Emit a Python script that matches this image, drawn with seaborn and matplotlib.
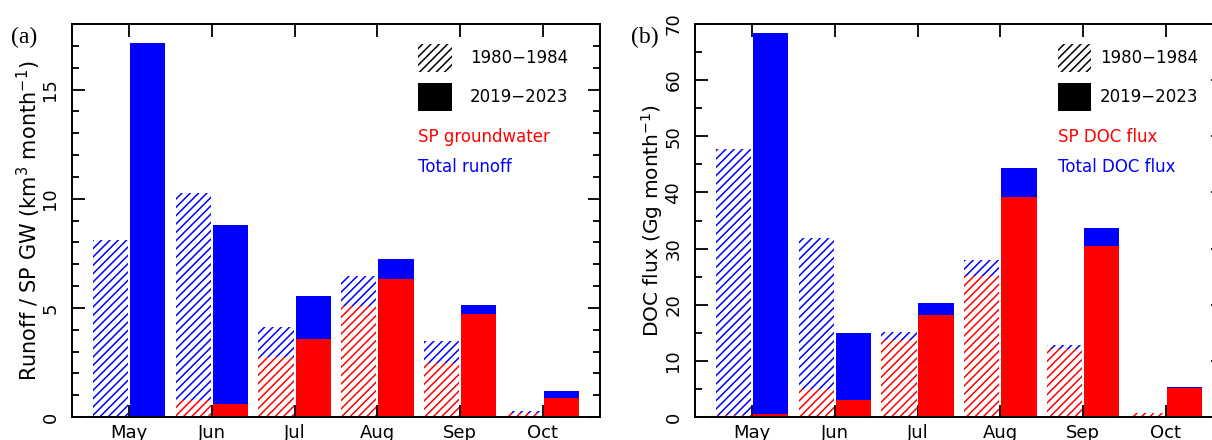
import numpy as np
import pandas as pd
import matplotlib
matplotlib.use("Agg")
import matplotlib.pyplot as plt
from matplotlib.patches import Rectangle
from matplotlib.ticker import MultipleLocator
import seaborn as sns

months = ["May", "Jun", "Jul", "Aug", "Sep", "Oct"]
periods = ["1980\u22121984", "2019\u22122023"]

# Panel (a): runoff (km3/month)
runoff_1980 = [8.09, 10.26, 4.11, 6.47, 3.47, 0.29]
gw_1980 = [0.05, 0.80, 2.77, 5.09, 2.46, 0.17]
runoff_2019 = [17.14, 8.79, 5.55, 7.25, 5.14, 1.19]
gw_2019 = [0.05, 0.60, 3.58, 6.33, 4.72, 0.89]

# Panel (b): DOC flux (Gg/month)
doc_1980 = [47.8, 31.9, 15.2, 28.0, 12.8, 0.8]
spdoc_1980 = [0.3, 5.05, 13.7, 25.1, 12.1, 0.7]
doc_2019 = [68.4, 14.9, 20.3, 44.3, 33.6, 5.3]
spdoc_2019 = [0.5, 2.97, 18.2, 39.2, 30.4, 5.1]

sns.set_style("ticks")
plt.rcParams["font.family"] = ["DejaVu Sans"]
plt.rcParams["hatch.linewidth"] = 1.1
plt.rcParams["axes.linewidth"] = 1.4
for k in ["text.color", "axes.labelcolor", "xtick.color", "ytick.color",
          "axes.edgecolor"]:
    plt.rcParams[k] = "black"

BLUE = "#0000ff"
RED = "#ff0000"
HATCH = "////"


def make_df(tot80, sp80, tot19, sp19):
    rows = []
    for i, m in enumerate(months):
        rows.append(dict(month=m, period=periods[0], total=tot80[i], sp=sp80[i]))
        rows.append(dict(month=m, period=periods[1], total=tot19[i], sp=sp19[i]))
    return pd.DataFrame(rows)


def style_container(cont, hatched, color):
    for p in cont.patches:
        p.set_linewidth(0)
        if hatched:
            p.set_facecolor("white")
            p.set_edgecolor(color)
            p.set_hatch(HATCH)
        else:
            p.set_facecolor(color)
            p.set_edgecolor(color)


def panel(ax, df, ylim, major, minor, ylabel, ylsize, lab_red, lab_blue,
          leg_x, txt_x):
    sns.barplot(data=df, x="month", y="total", hue="period", order=months,
                hue_order=periods, width=0.9, gap=0.05, errorbar=None,
                legend=False, ax=ax)
    sns.barplot(data=df, x="month", y="sp", hue="period", order=months,
                hue_order=periods, width=0.9, gap=0.05, errorbar=None,
                legend=False, ax=ax)
    conts = ax.containers
    style_container(conts[0], True, BLUE)
    style_container(conts[1], False, BLUE)
    style_container(conts[2], True, RED)
    style_container(conts[3], False, RED)

    ax.set_xlim(-0.69, 5.69)
    ax.set_ylim(*ylim)
    ax.yaxis.set_major_locator(MultipleLocator(major))
    ax.yaxis.set_minor_locator(MultipleLocator(minor))
    ax.tick_params(axis="both", which="both", direction="in", top=True,
                   right=True, labelsize=13, colors="black")
    ax.tick_params(axis="both", which="major", length=9, width=1.3)
    ax.tick_params(axis="y", which="minor", length=5, width=1.3)
    ax.tick_params(axis="y", pad=9)
    ax.tick_params(axis="x", pad=5)
    for lbl in ax.get_yticklabels():
        lbl.set_rotation(90)
        lbl.set_va("center")
    for s in ax.spines.values():
        s.set_visible(True)
        s.set_color("black")
    ax.set_xlabel("")
    ax.set_ylabel(ylabel, fontsize=ylsize)
    ax.yaxis.label.set_va("center")
    ax.yaxis.set_label_coords(-0.081, 0.5)

    # custom legend
    ax.add_patch(Rectangle((leg_x, 0.878), 0.064, 0.071, transform=ax.transAxes,
                           facecolor="white", edgecolor="black", hatch=HATCH,
                           linewidth=0, clip_on=False))
    ax.add_patch(Rectangle((leg_x, 0.779), 0.064, 0.071, transform=ax.transAxes,
                           facecolor="black", edgecolor="black", linewidth=0,
                           clip_on=False))
    ax.text(txt_x, 0.913, periods[0], transform=ax.transAxes, fontsize=12,
            va="center", ha="left")
    ax.text(txt_x, 0.814, periods[1], transform=ax.transAxes, fontsize=12,
            va="center", ha="left")
    ax.text(leg_x, 0.712, lab_red, transform=ax.transAxes, fontsize=12,
            color=RED, va="center", ha="left")
    ax.text(leg_x, 0.636, lab_blue, transform=ax.transAxes, fontsize=12,
            color=BLUE, va="center", ha="left")


fig = plt.figure(figsize=(12.12, 4.4), dpi=100)
ax1 = fig.add_axes([0.0594, 0.052, 0.4356, 0.8935])
ax2 = fig.add_axes([0.5734, 0.052, 0.4356, 0.8935])

panel(ax1, make_df(runoff_1980, gw_1980, runoff_2019, gw_2019), (0, 18), 5, 1,
      "Runoff / SP GW (km$^3$ month$^{-1}$)", 15, "SP groundwater",
      "Total runoff", 0.655, 0.754)
panel(ax2, make_df(doc_1980, spdoc_1980, doc_2019, spdoc_2019), (0, 70), 10, 5,
      "DOC flux (Gg month$^{-1}$)", 14.5, "SP DOC flux", "Total DOC flux",
      0.687, 0.767)

fig.text(0.009, 0.916, "(a)", fontsize=17, family="Liberation Serif",
         va="center", ha="left")
fig.text(0.5205, 0.916, "(b)", fontsize=17, family="Liberation Serif",
         va="center", ha="left")

fig.savefig("out.png", dpi=100)
